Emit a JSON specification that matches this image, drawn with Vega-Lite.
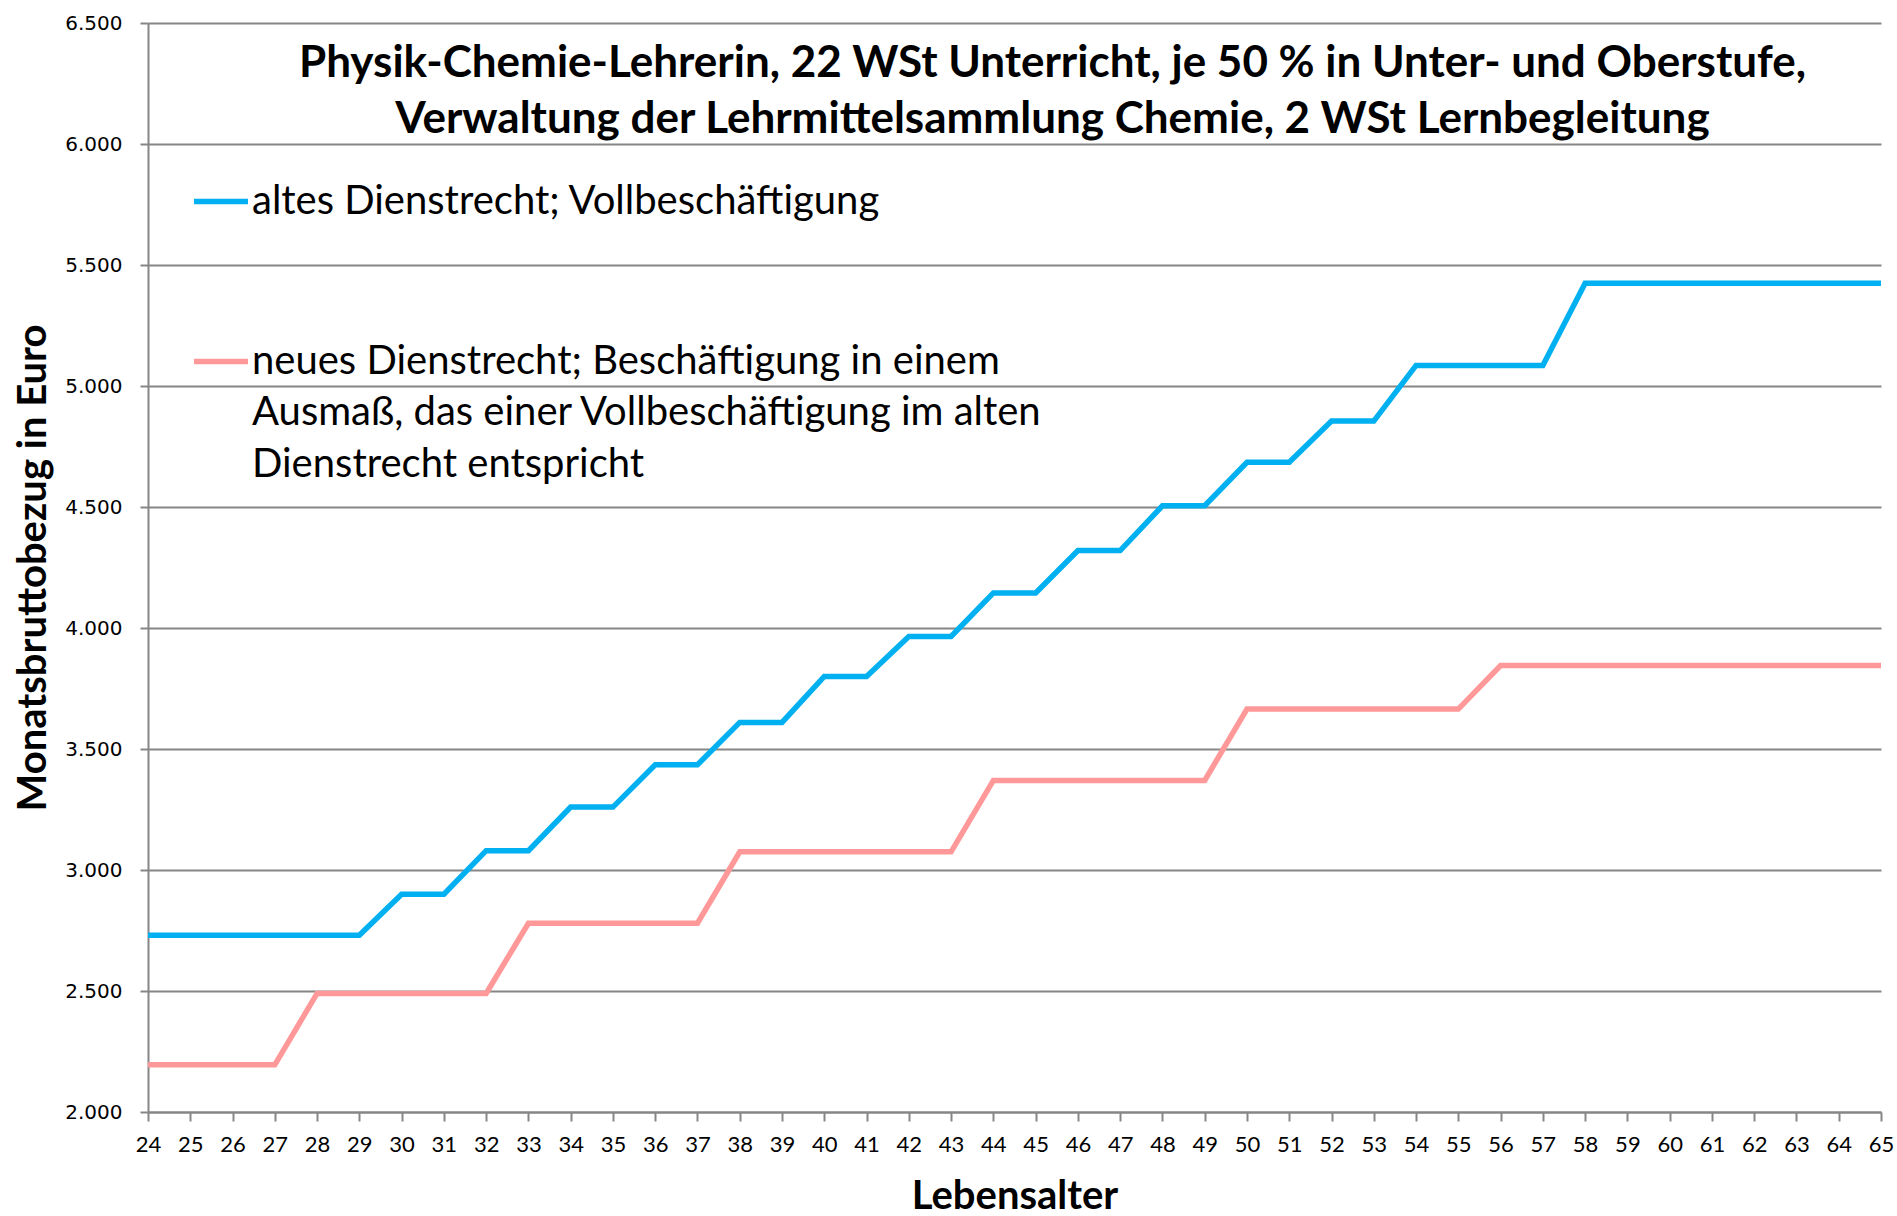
{
  "$schema": "https://vega.github.io/schema/vega-lite/v6.json",
  "width": 1733,
  "height": 1089,
  "autosize": {"type": "none"},
  "padding": {"left": 148, "top": 23, "right": 16, "bottom": 104},
  "background": "white",
  "title": {
    "text": ["Physik-Chemie-Lehrerin, 22 WSt Unterricht, je 50 % in Unter- und Oberstufe,", "Verwaltung der Lehrmittelsammlung Chemie, 2 WSt Lernbegleitung"],
    "font": "Lato",
    "fontSize": 44,
    "fontWeight": "bold",
    "color": "black",
    "anchor": "middle",
    "frame": "group",
    "offset": -128.5,
    "dx": 38,
    "lineHeight": 56
  },
  "data": {
    "values": [
      {"Alter": 24, "Bezug": 2730, "Dienstrecht": "alt"},
      {"Alter": 25, "Bezug": 2730, "Dienstrecht": "alt"},
      {"Alter": 26, "Bezug": 2730, "Dienstrecht": "alt"},
      {"Alter": 27, "Bezug": 2730, "Dienstrecht": "alt"},
      {"Alter": 28, "Bezug": 2730, "Dienstrecht": "alt"},
      {"Alter": 29, "Bezug": 2730, "Dienstrecht": "alt"},
      {"Alter": 30, "Bezug": 2900, "Dienstrecht": "alt"},
      {"Alter": 31, "Bezug": 2900, "Dienstrecht": "alt"},
      {"Alter": 32, "Bezug": 3080, "Dienstrecht": "alt"},
      {"Alter": 33, "Bezug": 3080, "Dienstrecht": "alt"},
      {"Alter": 34, "Bezug": 3260, "Dienstrecht": "alt"},
      {"Alter": 35, "Bezug": 3260, "Dienstrecht": "alt"},
      {"Alter": 36, "Bezug": 3435, "Dienstrecht": "alt"},
      {"Alter": 37, "Bezug": 3435, "Dienstrecht": "alt"},
      {"Alter": 38, "Bezug": 3610, "Dienstrecht": "alt"},
      {"Alter": 39, "Bezug": 3610, "Dienstrecht": "alt"},
      {"Alter": 40, "Bezug": 3800, "Dienstrecht": "alt"},
      {"Alter": 41, "Bezug": 3800, "Dienstrecht": "alt"},
      {"Alter": 42, "Bezug": 3965, "Dienstrecht": "alt"},
      {"Alter": 43, "Bezug": 3965, "Dienstrecht": "alt"},
      {"Alter": 44, "Bezug": 4145, "Dienstrecht": "alt"},
      {"Alter": 45, "Bezug": 4145, "Dienstrecht": "alt"},
      {"Alter": 46, "Bezug": 4320, "Dienstrecht": "alt"},
      {"Alter": 47, "Bezug": 4320, "Dienstrecht": "alt"},
      {"Alter": 48, "Bezug": 4505, "Dienstrecht": "alt"},
      {"Alter": 49, "Bezug": 4505, "Dienstrecht": "alt"},
      {"Alter": 50, "Bezug": 4685, "Dienstrecht": "alt"},
      {"Alter": 51, "Bezug": 4685, "Dienstrecht": "alt"},
      {"Alter": 52, "Bezug": 4855, "Dienstrecht": "alt"},
      {"Alter": 53, "Bezug": 4855, "Dienstrecht": "alt"},
      {"Alter": 54, "Bezug": 5085, "Dienstrecht": "alt"},
      {"Alter": 55, "Bezug": 5085, "Dienstrecht": "alt"},
      {"Alter": 56, "Bezug": 5085, "Dienstrecht": "alt"},
      {"Alter": 57, "Bezug": 5085, "Dienstrecht": "alt"},
      {"Alter": 58, "Bezug": 5425, "Dienstrecht": "alt"},
      {"Alter": 59, "Bezug": 5425, "Dienstrecht": "alt"},
      {"Alter": 60, "Bezug": 5425, "Dienstrecht": "alt"},
      {"Alter": 61, "Bezug": 5425, "Dienstrecht": "alt"},
      {"Alter": 62, "Bezug": 5425, "Dienstrecht": "alt"},
      {"Alter": 63, "Bezug": 5425, "Dienstrecht": "alt"},
      {"Alter": 64, "Bezug": 5425, "Dienstrecht": "alt"},
      {"Alter": 65, "Bezug": 5425, "Dienstrecht": "alt"},
      {"Alter": 24, "Bezug": 2195, "Dienstrecht": "neu"},
      {"Alter": 25, "Bezug": 2195, "Dienstrecht": "neu"},
      {"Alter": 26, "Bezug": 2195, "Dienstrecht": "neu"},
      {"Alter": 27, "Bezug": 2195, "Dienstrecht": "neu"},
      {"Alter": 28, "Bezug": 2490, "Dienstrecht": "neu"},
      {"Alter": 29, "Bezug": 2490, "Dienstrecht": "neu"},
      {"Alter": 30, "Bezug": 2490, "Dienstrecht": "neu"},
      {"Alter": 31, "Bezug": 2490, "Dienstrecht": "neu"},
      {"Alter": 32, "Bezug": 2490, "Dienstrecht": "neu"},
      {"Alter": 33, "Bezug": 2780, "Dienstrecht": "neu"},
      {"Alter": 34, "Bezug": 2780, "Dienstrecht": "neu"},
      {"Alter": 35, "Bezug": 2780, "Dienstrecht": "neu"},
      {"Alter": 36, "Bezug": 2780, "Dienstrecht": "neu"},
      {"Alter": 37, "Bezug": 2780, "Dienstrecht": "neu"},
      {"Alter": 38, "Bezug": 3075, "Dienstrecht": "neu"},
      {"Alter": 39, "Bezug": 3075, "Dienstrecht": "neu"},
      {"Alter": 40, "Bezug": 3075, "Dienstrecht": "neu"},
      {"Alter": 41, "Bezug": 3075, "Dienstrecht": "neu"},
      {"Alter": 42, "Bezug": 3075, "Dienstrecht": "neu"},
      {"Alter": 43, "Bezug": 3075, "Dienstrecht": "neu"},
      {"Alter": 44, "Bezug": 3370, "Dienstrecht": "neu"},
      {"Alter": 45, "Bezug": 3370, "Dienstrecht": "neu"},
      {"Alter": 46, "Bezug": 3370, "Dienstrecht": "neu"},
      {"Alter": 47, "Bezug": 3370, "Dienstrecht": "neu"},
      {"Alter": 48, "Bezug": 3370, "Dienstrecht": "neu"},
      {"Alter": 49, "Bezug": 3370, "Dienstrecht": "neu"},
      {"Alter": 50, "Bezug": 3665, "Dienstrecht": "neu"},
      {"Alter": 51, "Bezug": 3665, "Dienstrecht": "neu"},
      {"Alter": 52, "Bezug": 3665, "Dienstrecht": "neu"},
      {"Alter": 53, "Bezug": 3665, "Dienstrecht": "neu"},
      {"Alter": 54, "Bezug": 3665, "Dienstrecht": "neu"},
      {"Alter": 55, "Bezug": 3665, "Dienstrecht": "neu"},
      {"Alter": 56, "Bezug": 3845, "Dienstrecht": "neu"},
      {"Alter": 57, "Bezug": 3845, "Dienstrecht": "neu"},
      {"Alter": 58, "Bezug": 3845, "Dienstrecht": "neu"},
      {"Alter": 59, "Bezug": 3845, "Dienstrecht": "neu"},
      {"Alter": 60, "Bezug": 3845, "Dienstrecht": "neu"},
      {"Alter": 61, "Bezug": 3845, "Dienstrecht": "neu"},
      {"Alter": 62, "Bezug": 3845, "Dienstrecht": "neu"},
      {"Alter": 63, "Bezug": 3845, "Dienstrecht": "neu"},
      {"Alter": 64, "Bezug": 3845, "Dienstrecht": "neu"},
      {"Alter": 65, "Bezug": 3845, "Dienstrecht": "neu"}
    ]
  },
  "mark": {"type": "line", "strokeWidth": 5.5, "strokeJoin": "miter", "strokeCap": "butt"},
  "encoding": {
    "x": {
      "field": "Alter",
      "type": "quantitative",
      "scale": {"domain": [24, 65], "nice": false, "zero": false},
      "axis": {
        "values": [24, 25, 26, 27, 28, 29, 30, 31, 32, 33, 34, 35, 36, 37, 38, 39, 40, 41, 42, 43, 44, 45, 46, 47, 48, 49, 50, 51, 52, 53, 54, 55, 56, 57, 58, 59, 60, 61, 62, 63, 64, 65],
        "format": "d",
        "labelFont": "Lato",
        "labelFontSize": 22,
        "labelColor": "black",
        "labelPadding": 13,
        "labelOverlap": false,
        "labelFlush": false,
        "tickSize": 9,
        "tickWidth": 2,
        "tickColor": "#868686",
        "domainColor": "#868686",
        "domainWidth": 2,
        "grid": false,
        "title": "Lebensalter",
        "titleFont": "Lato",
        "titleFontSize": 40,
        "titleFontWeight": "bold",
        "titleColor": "black",
        "titlePadding": 21
      }
    },
    "y": {
      "field": "Bezug",
      "type": "quantitative",
      "scale": {"domain": [2000, 6500], "nice": false, "zero": false},
      "axis": {
        "values": [2000, 2500, 3000, 3500, 4000, 4500, 5000, 5500, 6000, 6500],
        "labelExpr": "replace(format(datum.value, ','), ',', '.')",
        "labelFont": "DejaVu Sans",
        "labelFontSize": 20,
        "labelColor": "black",
        "labelPadding": 18,
        "labelFlush": false,
        "tickSize": 8,
        "tickWidth": 2,
        "tickColor": "#868686",
        "domainColor": "#868686",
        "domainWidth": 2,
        "grid": true,
        "gridColor": "#868686",
        "gridWidth": 2,
        "title": "Monatsbruttobezug in Euro",
        "titleFont": "Lato",
        "titleFontSize": 40,
        "titleFontWeight": "bold",
        "titleColor": "black",
        "titlePadding": 11
      }
    },
    "color": {
      "field": "Dienstrecht",
      "type": "nominal",
      "scale": {"domain": ["alt", "neu"], "range": ["#00B0F0", "#FF9999"]},
      "legend": {
        "title": null,
        "orient": "none",
        "legendX": 43,
        "legendY": 148.5,
        "direction": "vertical",
        "padding": 0,
        "symbolType": "stroke",
        "symbolStrokeWidth": 5.5,
        "symbolSize": 2916,
        "labelOffset": 1,
        "rowPadding": 110,
        "labelFont": "Lato",
        "labelFontSize": 40,
        "labelColor": "black",
        "labelBaseline": "middle",
        "labelLimit": 1200,
        "labelExpr": "datum.value == 'alt' ? 'altes Dienstrecht; Vollbeschäftigung' : ['neues Dienstrecht; Beschäftigung in einem', 'Ausmaß, das einer Vollbeschäftigung im alten', 'Dienstrecht entspricht']"
      }
    }
  },
  "config": {
    "view": {"stroke": null},
    "style": {"guide-label": {"lineHeight": 51.5}}
  }
}
